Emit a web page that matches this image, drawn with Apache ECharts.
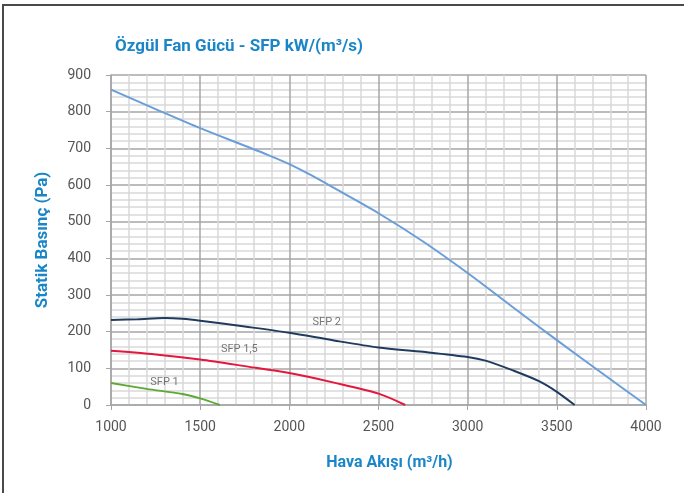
<!DOCTYPE html>
<html>
<head>
<meta charset="utf-8">
<script src="https://cdn.jsdelivr.net/npm/echarts@6/dist/echarts.min.js"></script>
<style>
html,body{margin:0;padding:0;background:#fff;}
#c{width:684px;height:493px;position:relative;}
#frame{position:absolute;left:2px;top:4px;right:-10px;bottom:-10px;border-left:2px solid #4a4a4a;border-top:2px solid #4a4a4a;pointer-events:none;}
</style>
</head>
<body>
<div id="c"></div>
<div id="frame"></div>
<script>
// Data (x: air flow m³/h, y: static pressure Pa)
const titleText = 'Özgül Fan Gücü - SFP kW/(m³/s)';
const xName = 'Hava Akışı (m³/h)';
const yName = 'Statik Basınç (Pa)';

const fanCurve = [[1000,860],[1250,807],[1500,755],[1750,707],[1875,683],[2000,657],[2125,626],[2250,592],[2500,523],[2750,446],[3000,360],[3250,268],[3500,177],[3750,88],[4000,0]];
const sfp2 = [[1000,232],[1150,234],[1300,237],[1400,235],[1500,230],[1750,214],[2000,197],[2250,176],[2500,157],[2750,145],[3000,131],[3100,121],[3250,95],[3400,65],[3500,36],[3600,0]];
const sfp15 = [[1000,148],[1250,138],[1500,124],[1750,106],[2000,87],[2250,61],[2500,31],[2650,0]];
const sfp1 = [[1000,60],[1200,44],[1400,30],[1500,18],[1610,0]];

const labelSfp1 = {name:'SFP 1', coord:[1300,62]};
const labelSfp15 = {name:'SFP 1,5', coord:[1720,152]};
const labelSfp2 = {name:'SFP 2', coord:[2210,225]};

const chart = echarts.init(document.getElementById('c'), null, {renderer:'canvas'});
const font = 'Roboto, "Noto Sans", sans-serif';
const blue = '#1a86c8';

function lbl(p){
  return {type:'scatter', data:[p.coord], symbol:'rect', symbolSize:1, silent:true, z:6,
    itemStyle:{color:'rgba(0,0,0,0)'},
    label:{show:true, position:'inside', formatter:p.name, color:'#555', fontSize:11, fontFamily:font}};
}
function line(data, color){
  return {type:'line', data:data, smooth:0.3, showSymbol:false, symbol:'none',
    lineStyle:{color:color, width:2}, itemStyle:{color:color}, z:5};
}

chart.setOption({
  animation:false,
  title:{text:titleText, left:110, top:33, textStyle:{color:blue, fontSize:17, fontWeight:'bold', fontFamily:font}},
  grid:{left:111, right:38, top:75, bottom:88},
  xAxis:{type:'value', min:1000, max:4000, interval:500,
    name:xName, nameLocation:'middle', nameGap:50,
    nameTextStyle:{color:blue, fontSize:16, fontWeight:'bold', fontFamily:font, padding:[0,0,0,22]},
    axisLine:{show:true, lineStyle:{color:'#a6a6a6', width:1.5}},
    axisTick:{show:true, length:5, lineStyle:{color:'#a6a6a6'}},
    axisLabel:{color:'#555', fontSize:14, fontFamily:font, margin:15, formatter:v=>String(v)},
    splitLine:{show:true, lineStyle:{color:'#a6a6a6', width:1.5}},
    minorTick:{show:false, splitNumber:5},
    minorSplitLine:{show:true, lineStyle:{color:'#d9d9d9', width:1.5}}
  },
  yAxis:{type:'value', min:0, max:900, interval:100,
    name:yName, nameLocation:'middle', nameGap:60, nameRotate:90,
    nameTextStyle:{color:blue, fontSize:17, fontWeight:'bold', fontFamily:font},
    axisLine:{show:true, lineStyle:{color:'#a6a6a6', width:1.5}},
    axisTick:{show:true, length:5, lineStyle:{color:'#a6a6a6'}},
    axisLabel:{color:'#555', fontSize:14, fontFamily:font, margin:20, formatter:v=>String(v)},
    splitLine:{show:true, lineStyle:{color:'#a6a6a6', width:1.5}},
    minorTick:{show:false, splitNumber:5},
    minorSplitLine:{show:true, lineStyle:{color:'#d9d9d9', width:1.5}}
  },
  series:[
    line(fanCurve, '#6a9edb'),
    line(sfp2, '#1f3b5e'),
    line(sfp15, '#e5173f'),
    line(sfp1, '#5ea836'),
    lbl(labelSfp2),
    lbl(labelSfp15),
    lbl(labelSfp1)
  ]
});
</script>
</body>
</html>
